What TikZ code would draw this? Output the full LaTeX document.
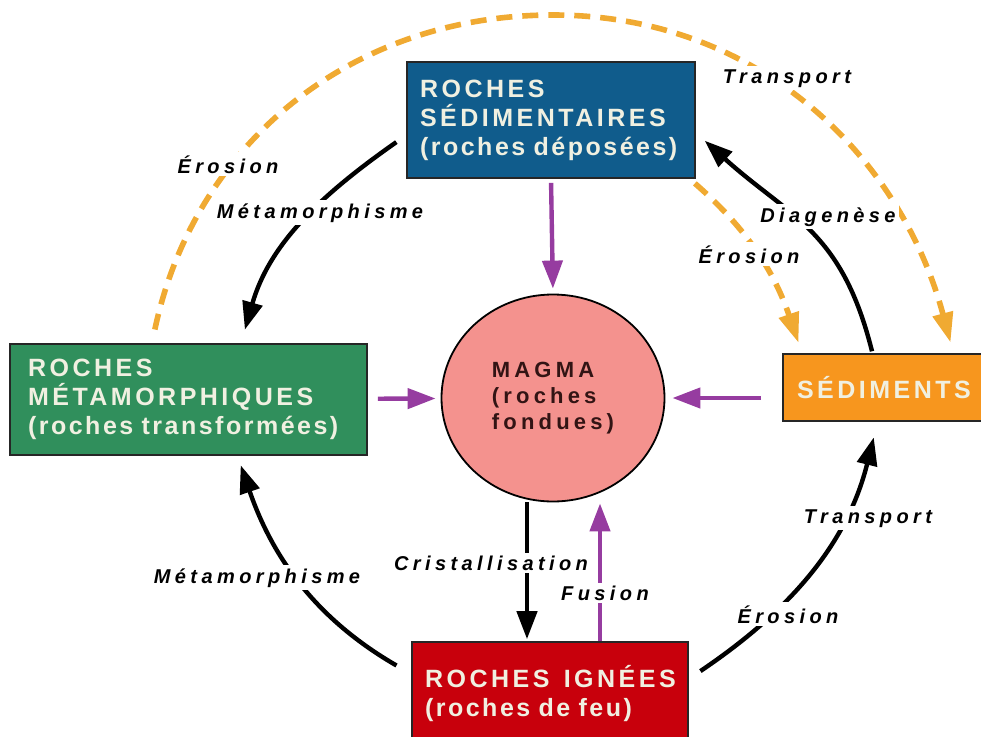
\documentclass[tikz,border=0pt]{standalone}
\usepackage{fontspec}
\setmainfont{Liberation Sans}
\newfontfamily\rockfont[LetterSpace=14]{Liberation Sans}
\newfontfamily\rocknote[LetterSpace=10]{Liberation Sans}
\newfontfamily\magmafont[LetterSpace=19]{Liberation Sans}
\newfontfamily\processfont[LetterSpace=22]{Liberation Sans}
\usetikzlibrary{arrows.meta,shapes.geometric}
\definecolor{sedblue}{RGB}{16,92,140}
\definecolor{metagreen}{RGB}{48,143,92}
\definecolor{sedorange}{RGB}{247,150,30}
\definecolor{ignred}{RGB}{200,0,12}
\definecolor{magmapink}{RGB}{244,146,142}
\definecolor{meltpurple}{RGB}{150,60,160}
\definecolor{flowyellow}{RGB}{240,170,50}
\definecolor{rocktext}{RGB}{240,240,225}
\definecolor{magmatext}{RGB}{50,20,20}

\begin{document}
\begin{tikzpicture}[
		x=0.5pt, y=0.5pt,
		rock/.style={draw=black!85, line width=0.8pt, text=rocktext, align=left, inner ysep=0pt,
				font=\rockfont\bfseries\fontsize{12.5}{14.5}\selectfont},
		process/.style={fill=white, inner sep=1.5pt, anchor=base,
				font=\processfont\bfseries\itshape\fontsize{10}{12}\selectfont},
		loopline/.style={line width=2.2pt, -{Triangle[length=14pt,width=10pt]}},
		melt/.style={loopline, meltpurple},
		weathering/.style={line width=2.8pt, flowyellow, dash pattern=on 8pt off 5pt,
				-{Triangle[length=15pt,width=10pt]}}
	]
	\clip (0,0) rectangle (981,736);
	% the rocks
	\node[rock, fill=sedblue, minimum width=144pt, minimum height=58pt, inner xsep=6.5pt, text width=131pt]
		(sedim) at (551,616) {ROCHES\\SÉDIMENTAIRES\\{\rocknote\bfseries(roches~déposées)}};
	\node[rock, fill=metagreen, minimum width=178.5pt, minimum height=55.5pt, inner xsep=9pt, text width=160.5pt]
		(meta) at (188.5,336.5) {ROCHES\\MÉTAMORPHIQUES\\{\rocknote\bfseries(roches~transformées)}};
	\node[rock, fill=sedorange, minimum width=108.5pt, minimum height=33.5pt, inner xsep=7pt, text width=94.5pt]
		(sedi) at (891.5,348.5) {SÉDIMENTS};
	\node[rock, fill=ignred, minimum width=138pt, minimum height=51.5pt, inner xsep=6.5pt, text width=125pt]
		(ign) at (550,42.5) {ROCHES~\hspace{3pt}IGNÉES\\{\rocknote\bfseries(roches~de~feu)}};
	\node[ellipse, draw, line width=0.9pt, fill=magmapink, text=magmatext, minimum width=111.5pt,
		minimum height=103.5pt, inner sep=0pt, align=left, font=\magmafont\bfseries\fontsize{11}{13}\selectfont]
		(magma) at (553,338) {MAGMA\\(roches\\fondues)};
	\coordinate (summit) at (553,721);

	% straight arrows
	\draw[melt, shorten <=2pt, shorten >=2.5pt] (sedim.south) -- (magma.north);
	\draw[melt, shorten <=5pt, shorten >=2.5pt] (meta) -- (magma);
	\draw[melt, shorten <=10.5pt, shorten >=3.5pt] (sedi.west |- magma) -- (magma);
	\draw[loopline, shorten >=1pt] ([xshift=-13pt]magma.south) -- ([xshift=-13pt]magma.south |- ign.north);
	\draw[melt, shorten >=0.5pt] ([xshift=25pt]ign.north) -- ([xshift=25pt]ign.north |- magma.south);

	% the outer cycle
	\draw[loopline, shorten <=6pt, shorten >=7pt] (sedim.186) to[out=215,in=74] (meta.47);
	\draw[loopline, shorten <=1pt, shorten >=6pt, looseness=1.15] (sedi.119) to[out=104,in=318] (sedim.355);
	\draw[loopline, shorten <=8.5pt, shorten >=5pt] (ign.172) to[out=150,in=289] (meta.311);
	\draw[loopline, shorten <=7pt, shorten >=8pt] (ign.6) to[out=34,in=256] (sedi.248);
	\draw[weathering, shorten <=7pt, shorten >=5.5pt] (meta.123) to[out=78,in=180] (summit) to[out=0,in=105] (sedi.29);
	\draw[weathering, shorten <=3.5pt, shorten >=5.5pt] (sedim.337) to[out=319,in=109] (sedi.159);

	% labels
	\node[process] (eroLeft) at (228,563) {Érosion};
	\node[process] (metaTop) at (320,518) {Métamorphisme};
	\node[process] (transTop) at (787,653) {Transport};
	\node[process] (diag) at (828,514) {Diagenèse};
	\node[process] (eroMid) at (749,473) {Érosion};
	\node[process] (crist) at (491,166) {Cristallisation};
	\node[process] (fusion) at (605,136) {Fusion};
	\node[process] (metaBot) at (257,153) {Métamorphisme};
	\node[process] (transBot) at (868,213) {Transport};
	\node[process] (eroBot) at (788,113) {Érosion};
\end{tikzpicture}
\end{document}
